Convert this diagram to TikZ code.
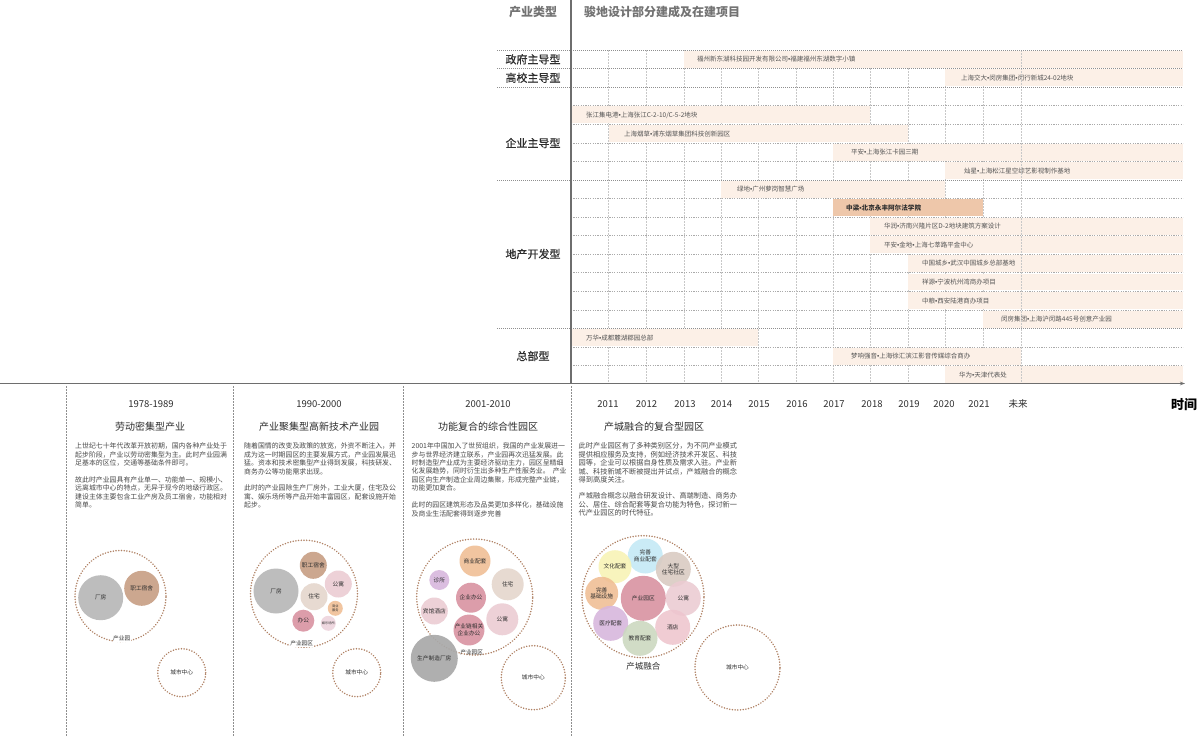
\documentclass[tikz,border=0pt]{standalone}
\usepackage{fontspec}
\setmainfont{Noto Sans CJK SC}
\newfontfamily\latinf{Liberation Sans}
\newfontfamily\medfont[FakeBold=0.6]{Noto Sans CJK SC}
\newcommand\bul{{\latinf •}}
\usetikzlibrary{arrows.meta}
\definecolor{gridc}{HTML}{C8C8C8}
\definecolor{catc}{HTML}{8F8F8F}
\definecolor{axisc}{HTML}{6E6E6E}
\definecolor{headc}{HTML}{737373}
\definecolor{darktxt}{HTML}{2E2E2E}
\definecolor{paratxt}{HTML}{4A4A4A}
\definecolor{bartextc}{HTML}{555555}
\definecolor{barc}{HTML}{FCF0E7}
\definecolor{barhi}{HTML}{EEC7AA}
\definecolor{zonec}{HTML}{B08265}
\definecolor{cGrey}{HTML}{B4B4B4}
\definecolor{cDGrey}{HTML}{A9A9A9}
\definecolor{cBrown}{HTML}{C59B80}
\definecolor{cPink}{HTML}{EBCBD2}
\definecolor{cBeige}{HTML}{E4D5CB}
\definecolor{cOrange}{HTML}{F0BD93}
\definecolor{cRose}{HTML}{D8909F}
\definecolor{cLPink}{HTML}{EDD3DC}
\definecolor{cPurple}{HTML}{D7B6DC}
\definecolor{cBlue}{HTML}{C3E9F5}
\definecolor{cYellow}{HTML}{F8F3B5}
\definecolor{cGreen}{HTML}{CBD8BF}
\definecolor{cHotel}{HTML}{EEC5CE}
\newcommand\projbar[5]{%
  \fill[barc] (#2,{50+18.56*#1+0.8}) rectangle (#3,{50+18.56*(#1+1)-0.8});
  \node[bartext] (bar#1) at (#4,{50+18.56*(#1+0.5)}) {#5};}
\begin{document}
\begin{tikzpicture}[x=1pt,y=-1pt,
  gridline/.style={draw=gridc, line width=0.5pt, dash pattern=on 1.5pt off 1.5pt},
  rowline/.style={draw=gridc!85!black, line width=0.5pt, dash pattern=on 1.2pt off 1.2pt},
  catline/.style={draw=catc, line width=0.6pt, dash pattern=on 1pt off 1pt},
  colsep/.style={draw=catc, line width=0.6pt, dash pattern=on 1.5pt off 1.5pt},
  bartext/.style={anchor=west, font=\fontsize{6.5}{7}\selectfont, text=bartextc, inner sep=0},
  cat/.style={font=\medfont\fontsize{11}{12}\selectfont, text=darktxt, inner sep=0},
  yr/.style={font=\fontsize{9.5}{11}\selectfont, text=darktxt, inner sep=0},
  ctitle/.style={font=\fontsize{10}{11}\selectfont, text=darktxt, inner sep=0},
  para/.style={anchor=north west, align=left, text=paratxt, inner sep=0},
  bubble/.style={circle, inner sep=0, font=\fontsize{5.7}{6.7}\selectfont, text=darktxt, align=center, fill opacity=0.88, text opacity=1},
  zone/.style={circle, draw=zonec, line width=1.7pt, dash pattern=on 0.01pt off 2.7pt, line cap=round, inner sep=0},
  zlabel/.style={font=\fontsize{5.7}{6.7}\selectfont, text=darktxt, fill=white, inner sep=0.6pt}
]
\useasboundingbox (0,0) rectangle (1200,737);
\fill[white] (0,0) rectangle (1200,737);

% ---------- header ----------
\node[font=\fontsize{12}{13}\bfseries\selectfont, text=headc, inner sep=0] (hType) at (533,12) {产业类型};
\node[font=\fontsize{12}{13}\bfseries\selectfont, text=headc, inner sep=0, anchor=west] (hProj) at (584,12) {骏地设计部分建成及在建项目};

% ---------- grid verticals ----------
\foreach \gx in {608.6,646,684,721,758,796,833,870,908,945,983}
  \draw[gridline] (\gx,50) -- (\gx,383);

% ---------- bars ----------
\projbar{0}{684}{1183}{697}{福州新东湖科技园开发有限公司\bul 福建福州东湖数字小镇}
\projbar{1}{945}{1183}{961}{上海交大\bul 闵房集团\bul 闵行新城24-02地块}
\projbar{3}{571}{870}{586}{张江集电港\bul 上海张江C-2-10/C-5-2地块}
\projbar{4}{608.6}{908}{624}{上海烟草\bul 浦东烟草集团科技创新园区}
\projbar{5}{833}{1183}{851}{平安\bul 上海张江卡园三期}
\projbar{6}{945}{1183}{964}{灿星\bul 上海松江星空综艺影视制作基地}
\projbar{7}{721}{945}{737}{绿地\bul 广州萝岗智慧广场}
\fill[barhi] (833,{50+18.56*8+0.8}) rectangle (983,{50+18.56*9-0.8});
\node[bartext, font=\fontsize{6.6}{7}\bfseries\selectfont, text=darktxt] (bar8) at (846,{50+18.56*8.5}) {中梁\bul 北京永丰阿尔法学院};
\projbar{9}{870}{1183}{884}{华润\bul 济南兴隆片区D-2地块建筑方案设计}
\projbar{10}{870}{1183}{884}{平安\bul 金地\bul 上海七莘路平金中心}
\projbar{11}{908}{1183}{922}{中国城乡\bul 武汉中国城乡总部基地}
\projbar{12}{908}{1183}{922}{祥源\bul 宁波杭州湾商办项目}
\projbar{13}{908}{1183}{922}{中粮\bul 西安陆港商办项目}
\projbar{14}{983}{1183}{1001}{闵房集团\bul 上海沪闵路445号创意产业园}
\projbar{15}{571}{758}{586}{万华\bul 成都麓湖郡园总部}
\projbar{16}{833}{1021}{851}{梦响强音\bul 上海徐汇滨江影音传媒综合商办}
\projbar{17}{945}{1183}{959}{华为\bul 天津代表处}

% future column line
\draw[gridline] (1021,50) -- (1021,383);

% ---------- row lines ----------
\foreach \r in {3,4,5,6,8,9,10,11,12,13,14,16,17}
  \draw[rowline] (571,{50+18.56*\r}) -- (1183,{50+18.56*\r});
\foreach \r in {0,1,2,7,15}
  \draw[catline] (497,{50+18.56*\r}) -- (1183,{50+18.56*\r});

% ---------- category labels ----------
\node[cat] (kGov) at (533,59.3) {政府主导型};
\node[cat] (kUni) at (533,77.8) {高校主导型};
\node[cat] (kEnt) at (533,143) {企业主导型};
\node[cat] (kEst) at (533,254) {地产开发型};
\node[cat] (kHQ)  at (533,356) {总部型};

% ---------- axes ----------
\coordinate (vTop) at (571,0);
\coordinate (vBot) at (571,383.5);
\draw[axisc, line width=1.3pt] (vTop) -- (vBot);
\coordinate (axL) at (0,383.5);
\coordinate (axR) at (1185,383.5);
\draw[axisc, line width=1.4pt, -{Stealth[length=5pt,width=3.5pt]}] (axL) -- (axR);

% column separators below axis
\foreach \cx in {66,233,403,571}
  \draw[colsep] (\cx,386) -- (\cx,737);

% ---------- year labels ----------
\node[yr] (y1) at (151,404) {1978-1989};
\node[yr] (y2) at (319,404) {1990-2000};
\node[yr] (y3) at (488,404) {2001-2010};
\foreach \yx/\yt in {608/2011,646.5/2012,685/2013,721.5/2014,759/2015,797/2016,834/2017,872/2018,909/2019,944/2020,979/2021}
  \node[yr] (yr\yt) at (\yx,404) {\yt};
\node[yr] (yrF) at (1018,404) {未来};
\node[font=\fontsize{13}{14}\bfseries\selectfont, text=black, inner sep=0] (tTime) at (1184,405) {时间};

% ---------- column titles ----------
\node[ctitle] (t1) at (150,426.5) {劳动密集型产业};
\node[ctitle] (t2) at (319,426.5) {产业聚集型高新技术产业园};
\node[ctitle] (t3) at (488,426.5) {功能复合的综合性园区};
\node[ctitle] (t4) at (654,426.5) {产城融合的复合型园区};

% ---------- paragraphs ----------
\node[para, font=\fontsize{6.9}{8.45}\selectfont] (p1) at (75,442.6) {上世纪七十年代改革开放初期，国内各种产业处于\\起步阶段，产业以劳动密集型为主。此时产业园满\\足基本的区位，交通等基础条件即可。\\[8.45pt]故此时产业园具有产业单一、功能单一、规模小、\\远离城市中心的特点，无异于现今的地级行政区。\\建设主体主要包含工业产房及员工宿舍，功能相对\\简单。};
\node[para, font=\fontsize{6.9}{8.45}\selectfont] (p2) at (244,442.6) {随着国情的改变及政策的放宽，外资不断注入，并\\成为这一时期园区的主要发展方式，产业园发展迅\\猛。资本和技术密集型产业得到发展，科技研发、\\商务办公等功能需求出现。\\[8.45pt]此时的产业园除生产厂房外，工业大厦，住宅及公\\寓、娱乐场所等产品开始丰富园区，配套设施开始\\起步。};
\node[para, font=\fontsize{6.9}{8.45}\selectfont] (p3) at (411.5,442.6) {2001年中国加入了世贸组织，我国的产业发展进一\\步与世界经济建立联系，产业园再次迅猛发展。此\\时制造型产业成为主要经济驱动主力，园区呈精细\\化发展趋势，同时衍生出多种生产性服务业。\ \ 产业\\园区向生产制造企业周边集聚，形成完整产业链，\\功能更加复合。\\[8.45pt]此时的园区建筑形态及品类更加多样化，基础设施\\及商业生活配套得到逐步完善};
\node[para, font=\fontsize{7.2}{8.45}\selectfont] (p4) at (578.5,442.6) {此时产业园区有了多种类别区分，为不同产业模式\\提供相应服务及支持，例如经济技术开发区、科技\\园等，企业可以根据自身性质及需求入驻。产业新\\城、科技新城不断被提出并试点，产城融合的概念\\得到高度关注。\\[7.6pt]产城融合概念以融合研发设计、高端制造、商务办\\公、居住、综合配套等复合功能为特色，探讨新一\\代产业园区的时代特征。};

% ---------- column 1 bubbles ----------
\node[zone, minimum size=91pt] (z1) at (120.5,596) {};
\node[bubble, fill=cGrey, minimum size=45pt] (b1a) at (100.7,597.7) {厂房};
\node[bubble, fill=cBrown, minimum size=35pt] (b1b) at (141.7,588.3) {职工宿舍};
\node[zlabel] (z1l) at (121.7,638.5) {产业园};
\node[zone, minimum size=48pt] (c1) at (181.7,672.7) {};
\node[bubble, fill=none] (c1l) at (181.7,672.7) {城市中心};

% ---------- column 2 bubbles ----------
\node[zone, minimum size=107pt] (z2) at (304,593.7) {};
\node[bubble, fill=cGrey, minimum size=45pt] (b2a) at (276,591) {厂房};
\node[bubble, fill=cBrown, minimum size=27pt] (b2b) at (313.3,565.3) {职工宿舍};
\node[bubble, fill=cPink, minimum size=27pt] (b2c) at (338.3,584) {公寓};
\node[bubble, fill=cBeige, minimum size=27pt] (b2d) at (314,596.7) {住宅};
\node[bubble, fill=cOrange, minimum size=15pt, font=\fontsize{3.2}{3.6}\selectfont] (b2e) at (335.3,608.3) {商业\\服务};
\node[bubble, fill=cRose, minimum size=22pt] (b2f) at (303.3,620.7) {办公};
\node[bubble, fill=cLPink, minimum size=15pt, font=\fontsize{3.2}{3.6}\selectfont] (b2g) at (328.3,623.3) {娱乐场所};
\node[zlabel] (z2l) at (301.7,643.5) {产业园区};
\node[zone, minimum size=48pt] (c2) at (356.7,672.7) {};
\node[bubble, fill=none] (c2l) at (356.7,672.7) {城市中心};

% ---------- column 3 bubbles ----------
\node[zone, minimum size=116pt] (z3) at (474.7,597) {};
\node[bubble, fill=cOrange, minimum size=31pt] (b3a) at (475,561) {商业配套};
\node[bubble, fill=cPurple, minimum size=20pt] (b3b) at (439.3,580) {诊所};
\node[bubble, fill=cBeige, minimum size=32pt] (b3c) at (507.7,584.3) {住宅};
\node[bubble, fill=cRose, minimum size=30pt] (b3d) at (471,597.7) {企业办公};
\node[bubble, fill=cPink, minimum size=27pt] (b3e) at (434.3,611) {宾馆酒店};
\node[bubble, fill=cPink, minimum size=32pt] (b3f) at (502.3,619.3) {公寓};
\node[bubble, fill=cRose, minimum size=29pt] (b3g) at (469,630) {产业链相关\\企业办公};
\node[zlabel, fill=none] (z3l) at (471.7,652.5) {产业园区};
\node[bubble, fill=cDGrey, minimum size=47pt, fill opacity=0.92] (b3h) at (434.3,658.3) {生产制造厂房};
\node[zone, minimum size=64pt] (c3) at (533.3,677.7) {};
\node[bubble, fill=none] (c3l) at (533.3,677.7) {城市中心};

% ---------- column 4 bubbles ----------
\node[zone, minimum size=122pt] (z4) at (643,596.7) {};
\node[bubble, fill=cBlue, minimum size=35pt] (b4a) at (645.3,556) {完善\\商业配套};
\node[bubble, fill=cYellow, minimum size=33pt] (b4b) at (615,566.7) {文化配套};
\node[bubble, fill=cBeige!95!black, minimum size=35pt] (b4c) at (673.3,569.3) {大型\\住宅社区};
\node[bubble, fill=cOrange, minimum size=33pt] (b4d) at (601.7,593.3) {完善\\基础设施};
\node[bubble, fill=cPink, minimum size=35pt] (b4e) at (683.3,598.3) {公寓};
\node[bubble, fill=cPurple, minimum size=35pt] (b4f) at (610.7,623.3) {医疗配套};
\node[bubble, fill=cHotel, minimum size=35pt] (b4g) at (672.7,627.3) {酒店};
\node[bubble, fill=cGreen, minimum size=35pt] (b4h) at (640,638.3) {教育配套};
\node[bubble, fill=cRose, minimum size=45pt] (b4i) at (643.3,598.3) {产业园区};
\node[font=\fontsize{8.5}{9}\selectfont, text=darktxt, inner sep=0] (z4l) at (643.3,666.7) {产城融合};
\node[zone, minimum size=85pt] (c4) at (737.5,667.5) {};
\node[bubble, fill=none] (c4l) at (737.5,667.5) {城市中心};
\end{tikzpicture}
\end{document}
